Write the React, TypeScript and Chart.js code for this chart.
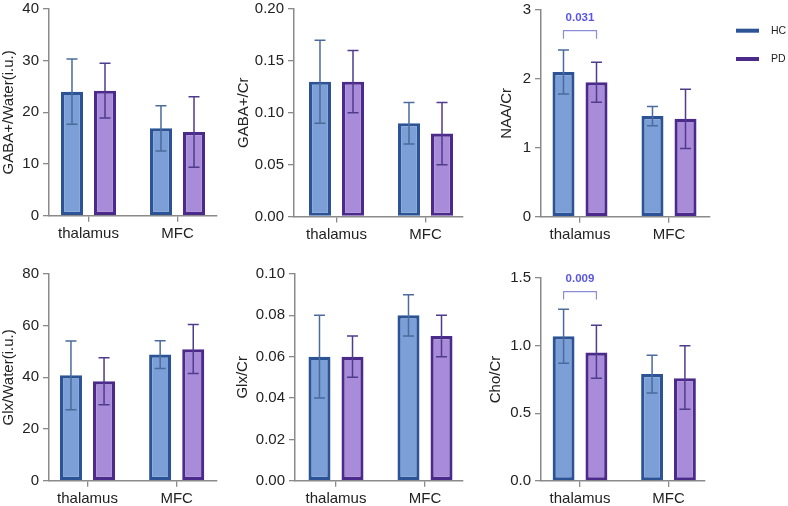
import React, { useEffect, useRef } from "react";
import { Chart, registerables } from "chart.js";

Chart.register(...registerables);

// ---------- data ----------
const categories = ["thalamus", "MFC"];
const groups = ["HC", "PD"];

// GABA+/Water(i.u.)
const gabaWaterHC = [24.0, 16.9];
const gabaWaterHCLow = [17.7, 12.5];
const gabaWaterHCHigh = [30.3, 21.3];
const gabaWaterPD = [24.2, 16.2];
const gabaWaterPDLow = [18.9, 9.4];
const gabaWaterPDHigh = [29.5, 23.0];

// GABA+/Cr
const gabaCrHC = [0.13, 0.09];
const gabaCrHCLow = [0.09, 0.07];
const gabaCrHCHigh = [0.17, 0.11];
const gabaCrPD = [0.13, 0.08];
const gabaCrPDLow = [0.1, 0.05];
const gabaCrPDHigh = [0.16, 0.11];

// NAA/Cr
const naaCrHC = [2.1, 1.46];
const naaCrHCLow = [1.78, 1.32];
const naaCrHCHigh = [2.42, 1.6];
const naaCrPD = [1.95, 1.42];
const naaCrPDLow = [1.66, 0.99];
const naaCrPDHigh = [2.24, 1.85];

// Glx/Water(i.u.)
const glxWaterHC = [40.8, 48.8];
const glxWaterHCLow = [27.5, 43.4];
const glxWaterHCHigh = [54.1, 54.2];
const glxWaterPD = [38.5, 50.9];
const glxWaterPDLow = [29.4, 41.5];
const glxWaterPDHigh = [47.6, 60.5];

// Glx/Cr
const glxCrHC = [0.06, 0.08];
const glxCrHCLow = [0.04, 0.07];
const glxCrHCHigh = [0.08, 0.09];
const glxCrPD = [0.06, 0.07];
const glxCrPDLow = [0.05, 0.06];
const glxCrPDHigh = [0.07, 0.08];

// Cho/Cr
const choCrHC = [1.07, 0.79];
const choCrHCLow = [0.87, 0.65];
const choCrHCHigh = [1.27, 0.93];
const choCrPD = [0.95, 0.76];
const choCrPDLow = [0.76, 0.53];
const choCrPDHigh = [1.15, 1.0];

// significance labels
const naaSigLabel = "0.031";
const naaSigLevel = 2.7;
const choSigLabel = "0.009";
const choSigLevel = 1.4;

// ---------- styles ----------
const FONT = "'Liberation Sans', Arial, Helvetica, sans-serif";
const HC_FILL = "#7b9fd6";
const HC_BORDER = "#2b5396";
const HC_ERR = "#4a6c9c";
const PD_FILL = "#a88bd9";
const PD_BORDER = "#4b2a8c";
const PD_ERR = "#4f3c8c";
const AXIS = "#8a8a8a";
const TEXT = "#222222";
const SIG_TEXT = "#5a55e0";
const SIG_LINE = "#8d8cd8";

type Sig = { text: string; at: number };
type PanelCfg = {
  title: string;
  max: number;
  step: number;
  decimals: number;
  hc: number[];
  hcLo: number[];
  hcHi: number[];
  pd: number[];
  pdLo: number[];
  pdHi: number[];
  sig?: Sig;
  legend?: boolean;
  // layout (page pixels)
  titleX: number;
  axisStart: number;
  axisEnd: number;
  c0: number;
  c1: number;
  chartTop: number;
  chartBottom: number;
};

const panels: PanelCfg[] = [
  {
    title: "GABA+/Water(i.u.)", max: 40, step: 10, decimals: 0,
    hc: gabaWaterHC, hcLo: gabaWaterHCLow, hcHi: gabaWaterHCHigh,
    pd: gabaWaterPD, pdLo: gabaWaterPDLow, pdHi: gabaWaterPDHigh,
    titleX: 9, axisStart: 49, axisEnd: 217, c0: 88.5, c1: 177.5, chartTop: 6.7, chartBottom: 215.7,
  },
  {
    title: "GABA+/Cr", max: 0.2, step: 0.05, decimals: 2,
    hc: gabaCrHC, hcLo: gabaCrHCLow, hcHi: gabaCrHCHigh,
    pd: gabaCrPD, pdLo: gabaCrPDLow, pdHi: gabaCrPDHigh,
    titleX: 244, axisStart: 294, axisEnd: 463, c0: 336.5, c1: 425.5, chartTop: 6.7, chartBottom: 216.5,
  },
  {
    title: "NAA/Cr", max: 3, step: 1, decimals: 0,
    hc: naaCrHC, hcLo: naaCrHCLow, hcHi: naaCrHCHigh,
    pd: naaCrPD, pdLo: naaCrPDLow, pdHi: naaCrPDHigh,
    sig: { text: naaSigLabel, at: naaSigLevel }, legend: true,
    titleX: 506.5, axisStart: 541, axisEnd: 710, c0: 580, c1: 669, chartTop: 7.3, chartBottom: 216.7,
  },
  {
    title: "Glx/Water(i.u.)", max: 80, step: 20, decimals: 0,
    hc: glxWaterHC, hcLo: glxWaterHCLow, hcHi: glxWaterHCHigh,
    pd: glxWaterPD, pdLo: glxWaterPDLow, pdHi: glxWaterPDHigh,
    titleX: 8.5, axisStart: 49, axisEnd: 216.7, c0: 87.5, c1: 176.7, chartTop: 271, chartBottom: 480.7,
  },
  {
    title: "Glx/Cr", max: 0.1, step: 0.02, decimals: 2,
    hc: glxCrHC, hcLo: glxCrHCLow, hcHi: glxCrHCHigh,
    pd: glxCrPD, pdLo: glxCrPDLow, pdHi: glxCrPDHigh,
    titleX: 242.5, axisStart: 295, axisEnd: 463, c0: 336, c1: 425, chartTop: 271.7, chartBottom: 480.7,
  },
  {
    title: "Cho/Cr", max: 1.5, step: 0.5, decimals: 1,
    hc: choCrHC, hcLo: choCrHCLow, hcHi: choCrHCHigh,
    pd: choCrPD, pdLo: choCrPDLow, pdHi: choCrPDHigh,
    sig: { text: choSigLabel, at: choSigLevel },
    titleX: 496, axisStart: 541, axisEnd: 705, c0: 580, c1: 668.5, chartTop: 275, chartBottom: 481,
  },
];

const PAD_TOP = 10;
const X_H = 32;
const CAP = 5.5;

function Panel({ cfg }: { cfg: PanelCfg }) {
  const ref = useRef<HTMLCanvasElement>(null);
  const canvasLeft = Math.round(cfg.titleX - 9);
  const canvasTop = Math.floor(cfg.chartTop - PAD_TOP);
  const padTop = cfg.chartTop - canvasTop;
  const rightEdge = cfg.legend ? 788 : Math.ceil(cfg.axisEnd + 6);
  const w = rightEdge - canvasLeft;
  const h = Math.ceil(cfg.chartBottom - canvasTop + X_H);
  const xBoxH = h - (cfg.chartBottom - canvasTop);
  const yW = cfg.axisStart - canvasLeft;
  const padRight = rightEdge - cfg.axisEnd;

  useEffect(() => {
    const canvas = ref.current;
    if (!canvas) return;
    const unit = cfg.c1 - cfg.c0;
    const xmin = -(cfg.c0 - cfg.axisStart) / unit;
    const xmax = 1 + (cfg.axisEnd - cfg.c1) / unit;

    const errPlugin = {
      id: "errbars",
      afterDatasetsDraw(chart: any) {
        const ctx = chart.ctx;
        const ys = chart.scales.y;
        const sets: [number[], number[], string][] = [
          [cfg.hcLo, cfg.hcHi, HC_ERR],
          [cfg.pdLo, cfg.pdHi, PD_ERR],
        ];
        sets.forEach(([lo, hi, col], di) => {
          const meta = chart.getDatasetMeta(di);
          meta.data.forEach((bar: any, i: number) => {
            const x = bar.x;
            const y1 = ys.getPixelForValue(lo[i]);
            const y2 = ys.getPixelForValue(hi[i]);
            ctx.save();
            ctx.strokeStyle = col;
            ctx.lineWidth = 1.5;
            ctx.beginPath();
            ctx.moveTo(x, y1);
            ctx.lineTo(x, y2);
            ctx.moveTo(x - CAP, y1);
            ctx.lineTo(x + CAP, y1);
            ctx.moveTo(x - CAP, y2);
            ctx.lineTo(x + CAP, y2);
            ctx.stroke();
            ctx.restore();
          });
        });
      },
    };

    const sigPlugin = {
      id: "sig",
      afterDatasetsDraw(chart: any) {
        if (!cfg.sig) return;
        const ctx = chart.ctx;
        const ys = chart.scales.y;
        const x0 = chart.getDatasetMeta(0).data[0].x;
        const x1 = chart.getDatasetMeta(1).data[0].x;
        const by = ys.getPixelForValue(cfg.sig.at);
        ctx.save();
        ctx.strokeStyle = SIG_LINE;
        ctx.lineWidth = 1.2;
        ctx.beginPath();
        ctx.moveTo(x0, by + 8);
        ctx.lineTo(x0, by);
        ctx.lineTo(x1, by);
        ctx.lineTo(x1, by + 8);
        ctx.stroke();
        ctx.fillStyle = SIG_TEXT;
        ctx.font = `bold 11.5px ${FONT}`;
        ctx.textAlign = "center";
        ctx.textBaseline = "middle";
        ctx.fillText(cfg.sig.text, (x0 + x1) / 2, by - 12.5);
        ctx.restore();
      },
    };

    const legendPlugin = {
      id: "customLegend",
      afterDraw(chart: any) {
        if (!cfg.legend) return;
        const ctx = chart.ctx;
        const items: [string, string, number][] = [
          [groups[0], HC_BORDER, 30.7],
          [groups[1], PD_BORDER, 59],
        ];
        ctx.save();
        items.forEach(([label, col, py]) => {
          const y = py - canvasTop;
          ctx.strokeStyle = col;
          ctx.lineWidth = 4;
          ctx.beginPath();
          ctx.moveTo(736 - canvasLeft, y);
          ctx.lineTo(759 - canvasLeft, y);
          ctx.stroke();
          ctx.fillStyle = TEXT;
          ctx.font = `10.5px ${FONT}`;
          ctx.textAlign = "left";
          ctx.textBaseline = "middle";
          ctx.fillText(label, 771 - canvasLeft, y);
        });
        ctx.restore();
      },
    };

    const chart = new Chart(canvas, {
      type: "bar",
      data: {
        datasets: [
          {
            label: groups[0],
            data: cfg.hc.map((v, i) => ({ x: i, y: v })),
            backgroundColor: HC_FILL,
            borderColor: HC_BORDER,
            borderWidth: 3.2,
            borderSkipped: false,
            categoryPercentage: 0.742,
            barPercentage: 0.667,
          },
          {
            label: groups[1],
            data: cfg.pd.map((v, i) => ({ x: i, y: v })),
            backgroundColor: PD_FILL,
            borderColor: PD_BORDER,
            borderWidth: 3.2,
            borderSkipped: false,
            categoryPercentage: 0.742,
            barPercentage: 0.667,
          },
        ],
      } as any,
      options: {
        responsive: false,
        animation: false,
        devicePixelRatio: 1,
        layout: { padding: { top: padTop, left: 0, right: padRight, bottom: 0 } },
        plugins: { legend: { display: false }, tooltip: { enabled: false } },
        scales: {
          x: {
            type: "linear",
            min: xmin,
            max: xmax,
            offset: false,
            afterBuildTicks: (s: any) => {
              s.ticks = [{ value: 0 }, { value: 1 }];
            },
            afterFit: (s: any) => {
              s.height = xBoxH;
            },
            ticks: {
              callback: (v: any) => categories[Math.round(Number(v))] ?? "",
              font: { family: FONT, size: 15 },
              color: TEXT,
              padding: 3,
              maxRotation: 0,
              autoSkip: false,
            },
            grid: { offset: false, drawOnChartArea: false, drawTicks: true, tickLength: 6, color: AXIS, lineWidth: 1.3 },
            border: { color: AXIS, width: 1.5 },
          },
          y: {
            min: 0,
            max: cfg.max,
            afterFit: (s: any) => {
              s.width = yW;
            },
            ticks: {
              stepSize: cfg.step,
              callback: (v: any) => Number(v).toFixed(cfg.decimals),
              font: { family: FONT, size: 15 },
              color: TEXT,
              padding: 4,
            },
            title: {
              display: true,
              text: cfg.title,
              font: { family: FONT, size: 15 },
              color: TEXT,
              padding: 0,
            },
            grid: { drawOnChartArea: false, drawTicks: true, tickLength: 6, color: AXIS, lineWidth: 1.3 },
            border: { color: AXIS, width: 1.5 },
          },
        },
      } as any,
      plugins: [errPlugin, sigPlugin, legendPlugin],
    });
    return () => chart.destroy();
  }, []);

  return (
    <canvas
      ref={ref}
      width={w}
      height={h}
      style={{ position: "absolute", left: canvasLeft, top: canvasTop, width: w, height: h }}
    />
  );
}

export default function App() {
  return (
    <div
      style={{
        position: "fixed",
        left: 0,
        top: 0,
        width: 788,
        height: 506,
        background: "#ffffff",
        overflow: "hidden",
      }}
    >
      {panels.map((p, i) => (
        <Panel key={i} cfg={p} />
      ))}
    </div>
  );
}
